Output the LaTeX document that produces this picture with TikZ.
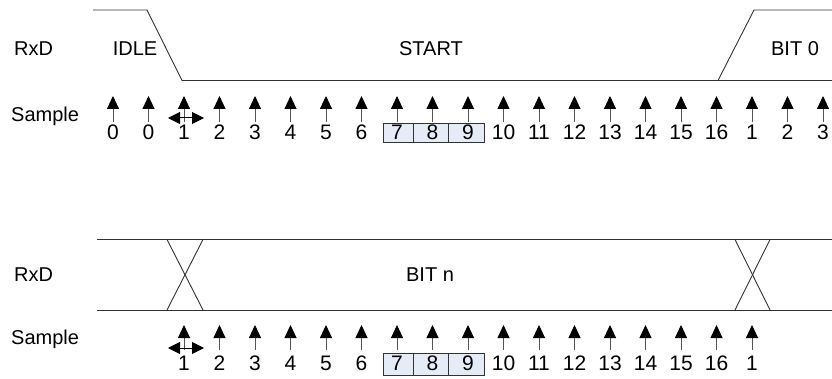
\documentclass[tikz,border=0pt]{standalone}
\usepackage{fontspec}
\setmainfont{Liberation Sans}
\usetikzlibrary{arrows.meta}
\definecolor{boxfill}{RGB}{230,236,247}
\definecolor{wavecol}{RGB}{50,50,50}
\definecolor{shaft}{RGB}{85,85,85}
\begin{document}
\begin{tikzpicture}[x=1pt,y=-1pt,
  lbl/.style={font=\fontsize{20}{23}\selectfont, inner sep=0pt, anchor=base},
  num/.style={font=\fontsize{21}{24}\selectfont, inner sep=0pt, anchor=base},
  wave/.style={draw=wavecol, line width=0.9pt},
  samp/.style={draw=shaft, line width=0.9pt, -{Triangle[length=13pt,width=12pt,color=black]}},
  dbl/.style={draw=black, line width=1pt, {Triangle[length=12pt,width=12pt]}-{Triangle[length=12pt,width=12pt]}},
  cell/.style={draw=wavecol, fill=boxfill, line width=0.8pt}]
\useasboundingbox (0,0) rectangle (832,379);
% ---------- top waveform ----------
\coordinate (i0) at (93,10);
\coordinate (i1) at (147,10);
\coordinate (i2) at (182,80.5);
\coordinate (i3) at (832,80.5);
\coordinate (b0) at (718,80.5);
\coordinate (b1) at (754,10);
\coordinate (b2) at (832,10);
\draw[wave] (i0) -- (i1) -- (i2) -- (i3);
\draw[wave] (b0) -- (b1) -- (b2);
\node[lbl,anchor=base west] (rxd1) at (14,56) {RxD};
\node[lbl] (idle) at (135,56) {IDLE};
\node[lbl] (start) at (431,56) {START};
\node[lbl] (bit0) at (795,56) {BIT 0};
\node[lbl,anchor=base west] (samp1) at (11,122) {Sample};
% boxes top
\draw[cell] (383,123) rectangle (413,142);
\draw[cell] (413,123) rectangle (448,142);
\draw[cell] (448,123) rectangle (484,142);
% sample arrows top
\foreach \k/\lab in {0/0,1/0,2/1,3/2,4/3,5/4,6/5,7/6,8/7,9/8,10/9,11/10,12/11,13/12,14/13,15/14,16/15,17/16,18/1,19/2,20/3}{
  \pgfmathsetmacro{\xx}{113+35.5*\k}
  \coordinate (ta\k) at (\xx,122);
  \coordinate (tb\k) at (\xx,96);
  \draw[samp] (ta\k) -- (tb\k);
  \node[num] (tn\k) at (\xx,140) {\lab};
}
\coordinate (dl1) at (168,118);
\coordinate (dr1) at (204,118);
\draw[dbl] (dl1) -- (dr1);
% ---------- bottom waveform ----------
\coordinate (u0) at (97,239.5);
\coordinate (u1) at (832,239.5);
\coordinate (l0) at (97,310);
\coordinate (l1) at (832,310);
\draw[wave] (u0) -- (u1);
\draw[wave] (l0) -- (l1);
\coordinate (xa0) at (167,239.5);
\coordinate (xa1) at (203,310);
\coordinate (xa2) at (203,239.5);
\coordinate (xa3) at (167,310);
\draw[wave] (xa0) -- (xa1);
\draw[wave] (xa2) -- (xa3);
\coordinate (xb0) at (735,239.5);
\coordinate (xb1) at (770,310);
\coordinate (xb2) at (770,239.5);
\coordinate (xb3) at (735,310);
\draw[wave] (xb0) -- (xb1);
\draw[wave] (xb2) -- (xb3);
\node[lbl,anchor=base west] (rxd2) at (14,281) {RxD};
\node[lbl] (bitn) at (430,281) {BIT n};
\node[lbl,anchor=base west] (samp2) at (11,344) {Sample};
% boxes bottom
\draw[cell] (383,353) rectangle (413,375);
\draw[cell] (413,353) rectangle (448,375);
\draw[cell] (448,353) rectangle (484,375);
\foreach \k/\lab in {2/1,3/2,4/3,5/4,6/5,7/6,8/7,9/8,10/9,11/10,12/11,13/12,14/13,15/14,16/15,17/16,18/1}{
  \pgfmathsetmacro{\xx}{113+35.5*\k}
  \coordinate (ba\k) at (\xx,350);
  \coordinate (bb\k) at (\xx,325);
  \draw[samp] (ba\k) -- (bb\k);
  \node[num] (bn\k) at (\xx,370) {\lab};
}
\coordinate (dl2) at (168,348);
\coordinate (dr2) at (204,348);
\draw[dbl] (dl2) -- (dr2);
\end{tikzpicture}
\end{document}
